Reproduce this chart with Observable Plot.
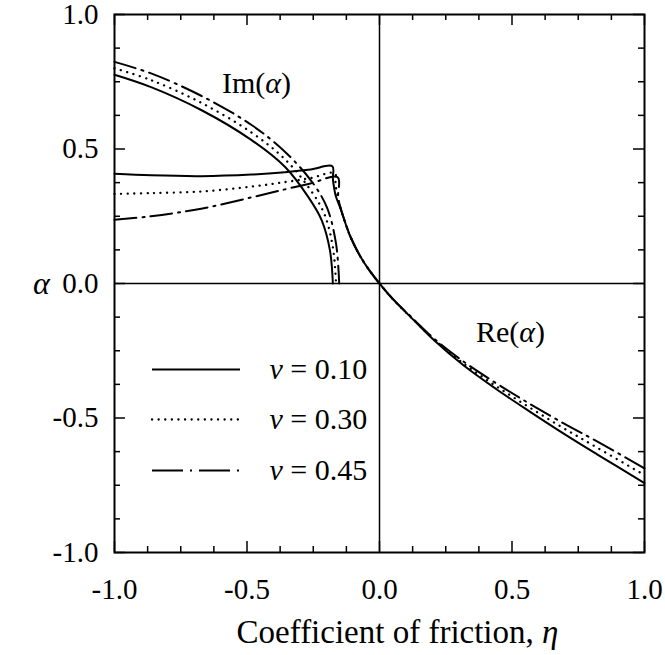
<!DOCTYPE html>
<html>
<head>
<meta charset="utf-8">
<script src="https://cdn.jsdelivr.net/npm/d3@7"></script>
<script src="https://cdn.jsdelivr.net/npm/@observablehq/plot@0.6"></script>
<style>
  body { margin: 0; background: #fff; }
  #chart svg { display: block; }
  #chart svg text { font-family: 'Liberation Serif', 'Times New Roman', serif; }
</style>
</head>
<body>
<div id="chart"></div>
<script>
// ---------- data ----------
const nuLabels = ["ν = 0.10", "ν = 0.30", "ν = 0.45"];
const majorTicks = [-1, -0.5, 0, 0.5, 1];
const minorTicks = [-0.875, -0.75, -0.625, -0.375, -0.25, -0.125, 0.125, 0.25, 0.375, 0.625, 0.75, 0.875];
const textLabels = ["Im(α)", "Re(α)"];
const xTitle = "Coefficient of friction, η";
const yTitle = "α";

// Im(α) branch, ν = 0.10 / 0.30 / 0.45
const imEta10   = [-1, -0.862, -0.673, -0.484, -0.357, -0.269, -0.218, -0.187, -0.176];
const imAlpha10 = [0.776, 0.730, 0.645, 0.534, 0.434, 0.322, 0.235, 0.123, 0.0];
const imEta30   = [-1, -0.862, -0.673, -0.484, -0.357, -0.262, -0.208, -0.176, -0.164];
const imAlpha30 = [0.800, 0.756, 0.672, 0.562, 0.462, 0.350, 0.258, 0.135, 0.0];
const imEta45   = [-1, -0.862, -0.673, -0.484, -0.357, -0.255, -0.198, -0.164, -0.152];
const imAlpha45 = [0.824, 0.781, 0.698, 0.590, 0.490, 0.378, 0.282, 0.148, 0.0];

// Re(α) branch, ν = 0.10 / 0.30 / 0.45
const reEta10   = [-1, -0.862, -0.673, -0.484, -0.357, -0.26, -0.178, -0.176, -0.172, -0.165, -0.147, -0.128, -0.109, -0.084, -0.059, -0.034, 0, 0.054, 0.13, 0.205, 0.318, 0.444, 0.57, 0.695, 0.821, 1];
const reAlpha10 = [0.408, 0.402, 0.399, 0.405, 0.414, 0.424, 0.436, 0.39, 0.36, 0.325, 0.278, 0.222, 0.172, 0.121, 0.079, 0.043, 0, -0.062, -0.137, -0.21, -0.305, -0.395, -0.478, -0.558, -0.635, -0.742];
const reEta30   = [-1, -0.862, -0.673, -0.484, -0.357, -0.26, -0.168, -0.166, -0.16, -0.147, -0.128, -0.109, -0.084, -0.059, -0.034, 0, 0.054, 0.13, 0.205, 0.318, 0.444, 0.57, 0.695, 0.821, 1];
const reAlpha30 = [0.333, 0.336, 0.342, 0.36, 0.377, 0.392, 0.41, 0.37, 0.335, 0.28, 0.222, 0.172, 0.121, 0.079, 0.043, 0, -0.062, -0.136, -0.207, -0.298, -0.384, -0.463, -0.538, -0.61, -0.712];
const reEta45   = [-1, -0.862, -0.673, -0.484, -0.357, -0.26, -0.158, -0.156, -0.147, -0.128, -0.109, -0.084, -0.059, -0.034, 0, 0.054, 0.13, 0.205, 0.318, 0.444, 0.57, 0.695, 0.821, 1];
const reAlpha45 = [0.237, 0.25, 0.278, 0.32, 0.35, 0.372, 0.395, 0.32, 0.282, 0.223, 0.173, 0.122, 0.08, 0.043, 0, -0.061, -0.134, -0.204, -0.291, -0.373, -0.449, -0.52, -0.587, -0.687];

// ---------- build table ----------
function rows(nu, branch, etas, alphas) {
  return etas.map((e, i) => ({nu, branch, eta: e, alpha: alphas[i]}));
}
const series = [
  rows(nuLabels[0], "im", imEta10, imAlpha10).concat(rows(nuLabels[0], "re", reEta10, reAlpha10)),
  rows(nuLabels[1], "im", imEta30, imAlpha30).concat(rows(nuLabels[1], "re", reEta30, reAlpha30)),
  rows(nuLabels[2], "im", imEta45, imAlpha45).concat(rows(nuLabels[2], "re", reEta45, reAlpha45))
];

// ---------- styles ----------
const FONT = "'Liberation Serif', 'Times New Roman', serif";
const lineStyles = [
  {stroke: "black", strokeWidth: 2},
  {stroke: "black", strokeWidth: 2.3, strokeDasharray: "0.1,6.5", strokeLinecap: "round"},
  {stroke: "black", strokeWidth: 2, strokeDasharray: "22,6,2,6"}
];
const legendLineStyles = [
  {stroke: "black", strokeWidth: 2},
  {stroke: "black", strokeWidth: 2.3, strokeDasharray: "0.1,6.5", strokeLinecap: "round"},
  {stroke: "black", strokeWidth: 2, strokeDasharray: "31,7,2,7"}
];
const legendDy = [86, 136, 187];

const W = 665, H = 655, mL = 114, mR = 21, mT = 14, mB = 103;
const plotW = W - mL - mR, plotH = H - mT - mB;
const majorLen = 11, minorLen = 6;

const marks = [
  Plot.frame({stroke: "black", strokeWidth: 2}),
  Plot.ruleX([0], {stroke: "black", strokeWidth: 1.5}),
  Plot.ruleY([0], {stroke: "black", strokeWidth: 1.5}),
  // inward ticks on all four sides
  Plot.tickX(majorTicks, {x: d => d, insetBottom: plotH - majorLen, strokeWidth: 1.5}),
  Plot.tickX(majorTicks, {x: d => d, insetTop: plotH - majorLen, strokeWidth: 1.5}),
  Plot.tickX(minorTicks, {x: d => d, insetBottom: plotH - minorLen, strokeWidth: 1.5}),
  Plot.tickX(minorTicks, {x: d => d, insetTop: plotH - minorLen, strokeWidth: 1.5}),
  Plot.tickY(majorTicks, {y: d => d, insetRight: plotW - majorLen, strokeWidth: 1.5}),
  Plot.tickY(majorTicks, {y: d => d, insetLeft: plotW - majorLen, strokeWidth: 1.5}),
  Plot.tickY(minorTicks, {y: d => d, insetRight: plotW - minorLen, strokeWidth: 1.5}),
  Plot.tickY(minorTicks, {y: d => d, insetLeft: plotW - minorLen, strokeWidth: 1.5}),
];

series.forEach((data, i) => {
  marks.push(Plot.line(data, {x: "eta", y: "alpha", z: "branch", curve: "catmull-rom", ...lineStyles[i]}));
});

// legend
nuLabels.forEach((lab, i) => {
  marks.push(Plot.ruleY([lab], {y: null, insetLeft: 38, insetRight: 404, dy: legendDy[i], ...legendLineStyles[i]}));
  marks.push(Plot.text([lab], {text: d => d, frameAnchor: "left", textAnchor: "start", lineAnchor: "middle", dx: 155, dy: legendDy[i], fontSize: 30}));
});

// curve labels
marks.push(Plot.text([textLabels[0]], {text: d => d, frameAnchor: "top-left", textAnchor: "middle", lineAnchor: "middle", dx: 142, dy: 69, fontSize: 30}));
marks.push(Plot.text([textLabels[1]], {text: d => d, frameAnchor: "top-left", textAnchor: "middle", lineAnchor: "middle", dx: 396, dy: 318, fontSize: 30}));

// axis titles
marks.push(Plot.text([xTitle], {text: d => d, frameAnchor: "bottom", textAnchor: "middle", lineAnchor: "bottom", dx: 18, dy: 90, fontSize: 33}));
marks.push(Plot.text([yTitle], {text: d => d, frameAnchor: "left", textAnchor: "middle", lineAnchor: "middle", dx: -73, dy: 0, fontSize: 32}));

const plot = Plot.plot({
  width: W, height: H,
  marginLeft: mL, marginRight: mR, marginTop: mT, marginBottom: mB,
  style: {fontFamily: FONT, fontSize: "29px", color: "black", background: "white"},
  x: {domain: [-1, 1], ticks: majorTicks, tickSize: 0, tickPadding: 26, tickFormat: d => d.toFixed(1), label: null},
  y: {domain: [-1, 1], ticks: majorTicks, tickSize: 0, tickPadding: 16, tickFormat: d => d.toFixed(1), label: null},
  marks
});

// italic Greek letters, serif font everywhere
function italicizeGreek(svg) {
  svg.querySelectorAll("text").forEach(t => t.setAttribute("font-family", FONT));
  const walker = document.createTreeWalker(svg, NodeFilter.SHOW_TEXT);
  const nodes = [];
  while (walker.nextNode()) nodes.push(walker.currentNode);
  for (const n of nodes) {
    const p = n.parentNode;
    if (!p || p.nodeName.toLowerCase() === "style") continue;
    const s = n.nodeValue;
    if (!/[αην]/.test(s)) continue;
    const frag = document.createDocumentFragment();
    for (const part of s.split(/([αην])/)) {
      if (!part) continue;
      if (/[αην]/.test(part)) {
        const t = document.createElementNS("http://www.w3.org/2000/svg", "tspan");
        t.setAttribute("font-style", "italic");
        t.textContent = part;
        frag.appendChild(t);
      } else {
        frag.appendChild(document.createTextNode(part));
      }
    }
    p.replaceChild(frag, n);
  }
}
italicizeGreek(plot);
document.getElementById("chart").appendChild(plot);
</script>
</body>
</html>
